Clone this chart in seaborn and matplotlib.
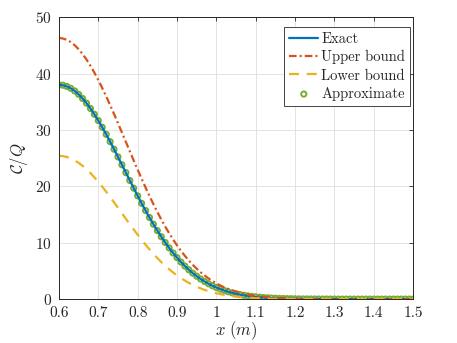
import numpy as np
import pandas as pd
import matplotlib
matplotlib.use('agg')
import matplotlib.pyplot as plt
import seaborn as sns

# x grid (0.6 .. 1.5, step 0.01)
x_vals = np.round(np.arange(0.60, 1.505, 0.01), 2)

exact = [38.00, 37.93, 37.72, 37.38, 36.91, 36.31, 35.58, 34.75, 33.81, 32.78,
         31.66, 30.47, 29.22, 27.92, 26.58, 25.21, 23.82, 22.43, 21.04, 19.67,
         18.31, 16.99, 15.71, 14.47, 13.28, 12.14, 11.06, 10.04, 9.08, 8.18,
         7.35, 6.57, 5.86, 5.20, 4.60, 4.06, 3.56, 3.12, 2.72, 2.36,
         2.05, 1.77, 1.52, 1.30, 1.11, 0.94, 0.80, 0.67, 0.57, 0.47,
         0.40, 0.33, 0.27, 0.23, 0.19, 0.15, 0.12, 0.10, 0.08, 0.07,
         0.05, 0.04, 0.03, 0.03, 0.02, 0.02, 0.01, 0.01, 0.01, 0.01,
         0.0, 0.0, 0.0, 0.0, 0.0, 0.0, 0.0, 0.0, 0.0, 0.0,
         0.0, 0.0, 0.0, 0.0, 0.0, 0.0, 0.0, 0.0, 0.0, 0.0, 0.0]

upper = [46.30, 46.22, 45.98, 45.58, 45.02, 44.31, 43.47, 42.49, 41.38, 40.16,
         38.84, 37.43, 35.95, 34.41, 32.82, 31.19, 29.54, 27.88, 26.22, 24.57,
         22.94, 21.35, 19.80, 18.29, 16.84, 15.45, 14.12, 12.87, 11.69, 10.57,
         9.53, 8.56, 7.67, 6.84, 6.08, 5.39, 4.76, 4.19, 3.67, 3.21,
         2.79, 2.42, 2.09, 1.81, 1.55, 1.33, 1.13, 0.96, 0.82, 0.69,
         0.58, 0.48, 0.40, 0.33, 0.28, 0.23, 0.19, 0.15, 0.12, 0.10,
         0.08, 0.06, 0.05, 0.04, 0.03, 0.03, 0.02, 0.02, 0.01, 0.01,
         0.01, 0.0, 0.0, 0.0, 0.0, 0.0, 0.0, 0.0, 0.0, 0.0,
         0.0, 0.0, 0.0, 0.0, 0.0, 0.0, 0.0, 0.0, 0.0, 0.0, 0.0]

lower = [25.40, 25.35, 25.20, 24.95, 24.60, 24.16, 23.64, 23.03, 22.35, 21.60,
         20.80, 19.94, 19.04, 18.11, 17.16, 16.20, 15.22, 14.25, 13.28, 12.34,
         11.41, 10.51, 9.65, 8.82, 8.03, 7.28, 6.57, 5.91, 5.30, 4.72,
         4.20, 3.71, 3.28, 2.88, 2.52, 2.19, 1.90, 1.64, 1.41, 1.21,
         1.04, 0.88, 0.75, 0.63, 0.53, 0.44, 0.37, 0.31, 0.25, 0.21,
         0.17, 0.14, 0.11, 0.09, 0.07, 0.06, 0.05, 0.04, 0.03, 0.02,
         0.02, 0.01, 0.01, 0.0, 0.0, 0.0, 0.0, 0.0, 0.0, 0.0,
         0.0, 0.0, 0.0, 0.0, 0.0, 0.0, 0.0, 0.0, 0.0, 0.0,
         0.0, 0.0, 0.0, 0.0, 0.0, 0.0, 0.0, 0.0, 0.0, 0.0, 0.0]

approx = exact

x_ticks = [0.6, 0.7, 0.8, 0.9, 1.0, 1.1, 1.2, 1.3, 1.4, 1.5]
x_tick_labels = ['0.6', '0.7', '0.8', '0.9', '1', '1.1', '1.2', '1.3', '1.4', '1.5']
y_ticks = [0, 10, 20, 30, 40, 50]

df = pd.DataFrame({'x': x_vals, 'Exact': exact, 'Upper bound': upper,
                   'Lower bound': lower, 'Approximate': approx})

sns.set_theme(style="white")
plt.rcParams['font.family'] = 'serif'
plt.rcParams['font.serif'] = ['cmr10', 'DejaVu Serif']
plt.rcParams['mathtext.fontset'] = 'cm'
plt.rcParams['axes.formatter.use_mathtext'] = True

fig = plt.figure(figsize=(4.57, 3.43), dpi=100)
ax = fig.add_axes([0.129, 0.128, 0.775, 0.822])

sns.lineplot(data=df, x='x', y='Exact', ax=ax, color='#0072BD', linewidth=1.6, label='Exact')
sns.lineplot(data=df, x='x', y='Upper bound', ax=ax, color='#D95319', linewidth=1.6,
             linestyle=(0, (3.4, 1.4, 0.9, 1.4)), label='Upper bound')
sns.lineplot(data=df, x='x', y='Lower bound', ax=ax, color='#EDB120', linewidth=1.6,
             linestyle=(0, (4.5, 3.5)), label='Lower bound')
sns.scatterplot(data=df, x='x', y='Approximate', ax=ax, marker='o', s=14,
                facecolors='none', edgecolor='#77AC30', linewidth=1.4, label='Approximate')

ax.set_xlim(0.6, 1.5)
ax.set_ylim(0, 50)
ax.set_xticks(x_ticks)
ax.set_xticklabels(x_tick_labels)
ax.set_yticks(y_ticks)
ax.tick_params(direction='in', length=3, width=0.6, colors='#262626', labelsize=11,
               top=True, right=True, labeltop=False, labelright=False)
ax.tick_params(axis='x', pad=5)
ax.tick_params(axis='y', pad=5)
ax.grid(True, color='#dedede', linewidth=0.6)
for s in ax.spines.values():
    s.set_color('#262626')
    s.set_linewidth(0.7)

ax.set_xlabel(r'$x\ (m)$', fontsize=12, labelpad=0)
ax.set_ylabel(r'$\mathcal{C}/Q$', fontsize=12, labelpad=4)

leg = ax.legend(loc='upper right', bbox_to_anchor=(0.992, 0.965), borderaxespad=0,
                fontsize=10.5, frameon=True, fancybox=False,
                edgecolor='#262626', framealpha=1, handlelength=2.0,
                handletextpad=0.2, borderpad=0.35, labelspacing=0.3)
leg.get_frame().set_linewidth(0.6)

plt.savefig('out.png', dpi=100)
